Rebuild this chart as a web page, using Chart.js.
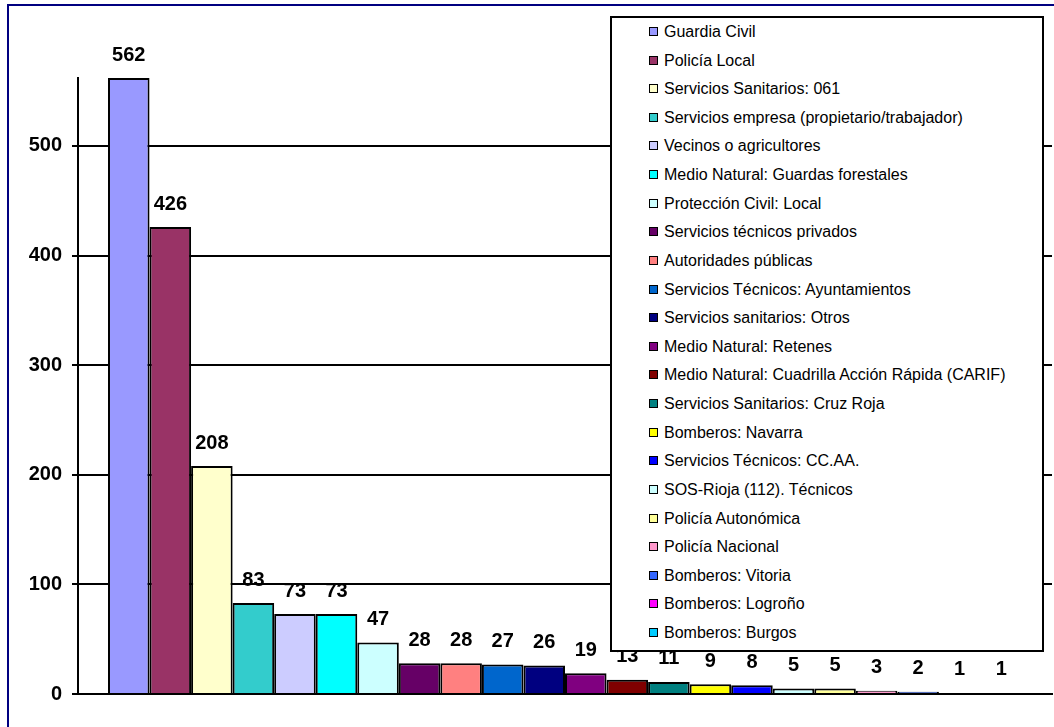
<!DOCTYPE html>
<html>
<head>
<meta charset="utf-8">
<script src="https://cdn.jsdelivr.net/npm/chart.js@4/dist/chart.umd.min.js"></script>
<style>
  html, body { margin: 0; padding: 0; background: #fff; overflow: hidden; }
  #wrap { position: relative; width: 1054px; height: 727px; }
  #frame { position: absolute; left: 7px; top: 4px; width: 1100px; height: 800px; border: 2px solid #000080; box-sizing: border-box; pointer-events: none; }
  canvas { position: absolute; left: 0; top: 0; }
  #legend { position: absolute; left: 610px; top: 16px; width: 434px; height: 636px; border: 2px solid #000; background: #fff; box-sizing: border-box; font-family: "Liberation Sans", Arial, sans-serif; font-size: 16px; color: #000; }
  .item { position: absolute; left: 0; height: 20px; line-height: 20px; white-space: nowrap; }
  .sw { position: absolute; left: 37px; top: 5px; width: 7px; height: 7px; border: 1.5px solid #000; }
  .tx { position: absolute; left: 52px; top: 0; }
</style>
</head>
<body>
<div id="wrap">
  <canvas id="c" width="1054" height="727"></canvas>
  <div id="frame"></div>
  <div id="legend"></div>
</div>
<script>
const seriesNames = [
  "Guardia Civil",
  "Policía Local",
  "Servicios Sanitarios: 061",
  "Servicios empresa (propietario/trabajador)",
  "Vecinos o agricultores",
  "Medio Natural: Guardas forestales",
  "Protección Civil: Local",
  "Servicios técnicos privados",
  "Autoridades públicas",
  "Servicios Técnicos: Ayuntamientos",
  "Servicios sanitarios: Otros",
  "Medio Natural: Retenes",
  "Medio Natural: Cuadrilla Acción Rápida (CARIF)",
  "Servicios Sanitarios: Cruz Roja",
  "Bomberos: Navarra",
  "Servicios Técnicos: CC.AA.",
  "SOS-Rioja (112). Técnicos",
  "Policía Autonómica",
  "Policía Nacional",
  "Bomberos: Vitoria",
  "Bomberos: Logroño",
  "Bomberos: Burgos"
];
const seriesValues = [562, 426, 208, 83, 73, 73, 47, 28, 28, 27, 26, 19, 13, 11, 9, 8, 5, 5, 3, 2, 1, 1];
const seriesColors = [
  "#9999FF", "#993366", "#FFFFCC", "#33CCCC", "#CCCCFF", "#00FFFF", "#CCFFFF", "#660066",
  "#FF8080", "#0066CC", "#000080", "#800080", "#800000", "#008080", "#FFFF00", "#0000FF",
  "#CCFFFF", "#FFFF99", "#FF99CC", "#3366FF", "#FF00FF", "#00CCFF"
];
const categories = [""];
const yTicks = [0, 100, 200, 300, 400, 500];
const yMax = 562;

const datasets = seriesNames.map((name, i) => ({
  label: name,
  data: [seriesValues[i]],
  backgroundColor: seriesColors[i],
  borderColor: "#000",
  borderWidth: 2,
  barPercentage: 1.0,
  categoryPercentage: 0.9384
}));

const valueLabels = {
  id: "valueLabels",
  afterDatasetsDraw(chart) {
    const ctx = chart.ctx;
    ctx.save();
    ctx.font = "bold 20px 'Liberation Sans', Arial, sans-serif";
    ctx.fillStyle = "#000";
    ctx.textAlign = "center";
    ctx.textBaseline = "middle";
    chart.data.datasets.forEach((ds, i) => {
      const meta = chart.getDatasetMeta(i);
      meta.data.forEach((el, j) => {
        ctx.fillText(String(ds.data[j]), el.x, el.y - 23);
      });
    });
    ctx.restore();
  }
};

new Chart(document.getElementById("c"), {
  type: "bar",
  data: { labels: categories, datasets },
  options: {
    responsive: false,
    maintainAspectRatio: false,
    animation: false,
    layout: { padding: { top: 78, right: 2, left: 0, bottom: 0 } },
    plugins: { legend: { display: false }, tooltip: { enabled: false }, title: { display: false } },
    scales: {
      x: {
        grid: { display: false },
        ticks: { display: false },
        border: { display: true, color: "#000", width: 2 },
        afterFit(scale) { scale.height = 33; }
      },
      y: {
        min: 0,
        max: yMax,
        ticks: {
          stepSize: 100,
          color: "#000",
          padding: 10,
          font: { family: "'Liberation Sans', Arial, sans-serif", size: 20, weight: "bold" }
        },
        grid: { color: "#000", lineWidth: 2, tickLength: 6, drawTicks: true },
        border: { display: true, color: "#000", width: 2 },
        afterBuildTicks(scale) {
          scale.ticks = yTicks.map(v => ({ value: v }));
        },
        afterFit(scale) { scale.width = 78; }
      }
    }
  },
  plugins: [valueLabels]
});

const legend = document.getElementById("legend");
seriesNames.forEach((name, i) => {
  const item = document.createElement("div");
  item.className = "item";
  item.style.top = (4 + i * 28.62) + "px";
  const sw = document.createElement("div");
  sw.className = "sw";
  sw.style.background = seriesColors[i];
  const tx = document.createElement("span");
  tx.className = "tx";
  tx.textContent = name;
  item.appendChild(sw);
  item.appendChild(tx);
  legend.appendChild(item);
});
</script>
</body>
</html>
